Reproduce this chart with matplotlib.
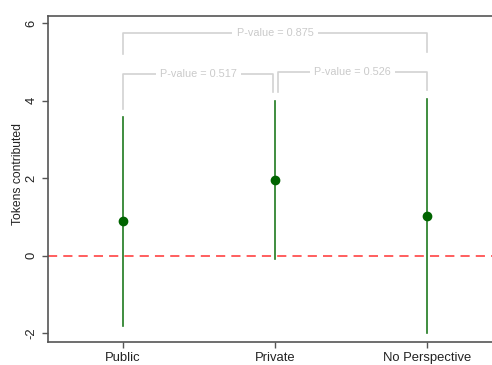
import matplotlib.pyplot as plt

plt.rcParams['font.family'] = ['Liberation Sans', 'DejaVu Sans']

# estimates with confidence intervals per condition
groups = ['Public', 'Private', 'No Perspective']
estimate = [0.885, 1.96, 1.01]
ci_low = [-1.81, -0.09, -2.01]
ci_high = [3.58, 3.98, 4.03]

# pairwise comparisons: (left group, right group, bar height, left leg end, right leg end, label)
pairs = [(0, 1, 4.68, 3.79, 4.21, 'P-value = 0.517'),
         (1, 2, 4.73, 4.21, 4.27, 'P-value = 0.526'),
         (0, 2, 5.74, 5.21, 5.24, 'P-value = 0.875')]

xs = [1, 2, 3]

fig = plt.figure(figsize=(4.92, 3.65), dpi=100)
ax = fig.add_axes([48 / 492, 23 / 365, 454 / 492, 326 / 365])

ax.axhline(0, color='#ff3333', linestyle=(0, (6, 4)), linewidth=1.1, zorder=1)

gray = '#d2d2d2'
for i, j, h, l1, l2, label in pairs:
    xi, xj = xs[i], xs[j]
    if i == 1:
        xi += 0.02
    if j == 1:
        xj -= 0.01
    ax.plot([xi, xi, xj, xj], [l1, h, h, l2], color=gray, linewidth=1.2, zorder=1)
    ax.text((xi + xj) / 2, h, label, color='#cacaca', fontsize=7.8,
            ha='center', va='center',
            bbox=dict(facecolor='white', edgecolor='none', pad=3), zorder=2)

for x, e, lo, hi in zip(xs, estimate, ci_low, ci_high):
    ax.plot([x, x], [lo, hi], color='#1f7a1f', linewidth=1.2, zorder=3)
ax.plot(xs, estimate, 'o', color='#006400', markersize=6, zorder=4)

ax.set_xlim(0.507, 3.493)
ax.set_ylim(-2.23, 6.18)
ax.set_xticks(xs)
ax.set_xticklabels(groups)
ax.set_yticks([-2, 0, 2, 4, 6])
ax.set_yticklabels(['-2', '0', '2', '4', '6'], rotation=90, va='center')
fig.text(18 / 492, 1 - 174 / 365, 'Tokens contributed', rotation=90,
         ha='center', va='center', fontsize=8.7, color='#222222')

for side in ['left', 'bottom', 'top', 'right']:
    ax.spines[side].set_color('#555555')
    ax.spines[side].set_linewidth(1.2)
ax.tick_params(axis='both', colors='#555555', labelcolor='#222222', labelsize=9.4,
               length=4, width=1)

fig.savefig('out.png', dpi=100)
